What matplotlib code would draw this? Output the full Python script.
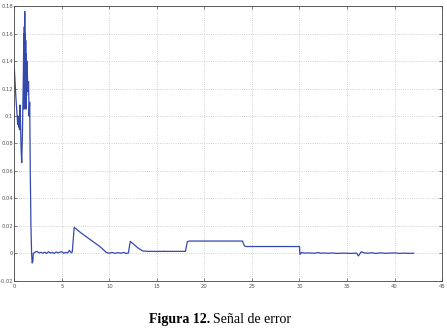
import numpy as np
import matplotlib
matplotlib.use("Agg")
import matplotlib.pyplot as plt

# ── DATA ──────────────────────────────────────────────────────────────────
t_start = [0.0, 0.1, 0.2, 0.3, 0.35, 0.4, 0.45, 0.5, 0.55, 0.6, 0.65, 0.72,
           0.78, 0.85, 0.95, 1.0, 1.02, 1.05, 1.08, 1.1, 1.12, 1.15, 1.18,
           1.2, 1.23, 1.26, 1.29, 1.32, 1.35, 1.38, 1.42, 1.5, 1.55, 1.62,
           1.68, 1.75, 1.82, 1.88, 1.95, 2.0]
e_start = [0.135, 0.122, 0.110, 0.100, 0.094, 0.100, 0.092, 0.098, 0.090,
           0.108, 0.095, 0.075, 0.066, 0.085, 0.130, 0.160, 0.105, 0.165,
           0.110, 0.176, 0.120, 0.160, 0.110, 0.155, 0.105, 0.145, 0.115,
           0.140, 0.120, 0.130, 0.118, 0.125, 0.100, 0.110, 0.060, 0.020,
           0.000, -0.007, -0.006, 0.000]

t_mid = [2.2, 2.4, 2.6, 2.8, 3.0, 3.2, 3.4, 3.6, 3.8, 4.0, 4.2, 4.4, 4.6,
         4.8, 5.0, 5.2, 5.4, 5.6, 5.8, 6.0, 6.1, 6.3, 7.0, 8.0, 9.0, 9.7,
         10.0, 10.3, 10.6, 10.9, 11.2, 11.5, 11.8, 12.0, 12.2, 12.5, 13.0,
         13.5, 14.0, 18.0, 18.2, 18.4, 24.0, 24.2, 24.4, 30.0]
e_mid = [0.001, 0.0015, 0.0003, 0.0008, 0.0002, 0.0009, 0.0, 0.0012,
         0.0003, 0.0008, 0.0, 0.0011, 0.0004, 0.0009, 0.0012, 0.0002,
         0.0007, 0.0003, 0.0022, 0.0004, 0.0012, 0.019, 0.015, 0.0100,
         0.0050, 0.0006, 0.0002, 0.0007, 0.0, 0.0006, 0.0001, 0.0007, 0.0,
         0.0003, 0.0088, 0.0070, 0.0040, 0.0018, 0.0015, 0.0015, 0.0085,
         0.0090, 0.0090, 0.0055, 0.0050, 0.0050]

t_end = [30.05, 30.2, 30.6, 31.0, 31.5, 32.0, 32.2, 32.6, 33.0, 33.5, 34.0,
         34.5, 35.0, 35.5, 36.0, 36.2, 36.5, 36.8, 37.2, 37.6, 38.0, 38.5,
         39.0, 39.5, 40.0, 40.5, 41.0, 41.5, 42.0]
e_end = [-0.0008, 0.0006, 0.0002, 0.0004, 0.0001, 0.0006, 0.0002, 0.0003,
         0.0001, 0.0003, 0.0, 0.0002, 0.0001, 0.0, 0.0002, -0.0018, 0.0012,
         0.0004, 0.0001, 0.0005, 0.0, 0.0004, 0.0001, 0.0002, 0.0004, 0.0,
         0.0002, 0.0001, 0.0001]

x_ticks = [0, 5, 10, 15, 20, 25, 30, 35, 40, 45]
y_ticks = [-0.02, 0, 0.02, 0.04, 0.06, 0.08, 0.1, 0.12, 0.14, 0.16, 0.18]
y_labels = ["-0.02", "0", "0.02", "0.04", "0.06", "0.08", "0.1",
            "0.12", "0.14", "0.16", "0.18"]

t = t_start + t_mid + t_end
e = e_start + e_mid + e_end

# ── FIGURE ────────────────────────────────────────────────────────────────
fig = plt.figure(figsize=(4.47, 3.36), dpi=100)
ax = fig.add_axes([0.032, 0.164, 0.957, 0.818])

ax.plot(t, e, color="#3449AC", linewidth=0.9)

ax.set_xlim(0, 45)
ax.set_ylim(-0.02, 0.18)
ax.set_xticks(x_ticks)
ax.set_yticks(y_ticks)
ax.set_xticklabels([str(v) for v in x_ticks])
ax.set_yticklabels(y_labels)
ax.tick_params(labelsize=3.8, direction="in", length=2, width=0.5,
               top=True, right=True, pad=1, colors="#555555")
ax.tick_params(axis="x", pad=2.5)
ax.grid(True, linestyle=":", color="#c4c4c4", linewidth=0.6)
for sp in ax.spines.values():
    sp.set_linewidth(0.6)
    sp.set_color("#444444")

# ── CAPTION ───────────────────────────────────────────────────────────────
fig.text(0.470, 0.04, "Figura 12.", fontweight="bold", fontsize=10,
         family="Liberation Serif", ha="right", va="baseline")
fig.text(0.477, 0.04, "Señal de error", fontsize=10,
         family="Liberation Serif", ha="left", va="baseline")

fig.savefig("out.png", dpi=100, facecolor="white")
